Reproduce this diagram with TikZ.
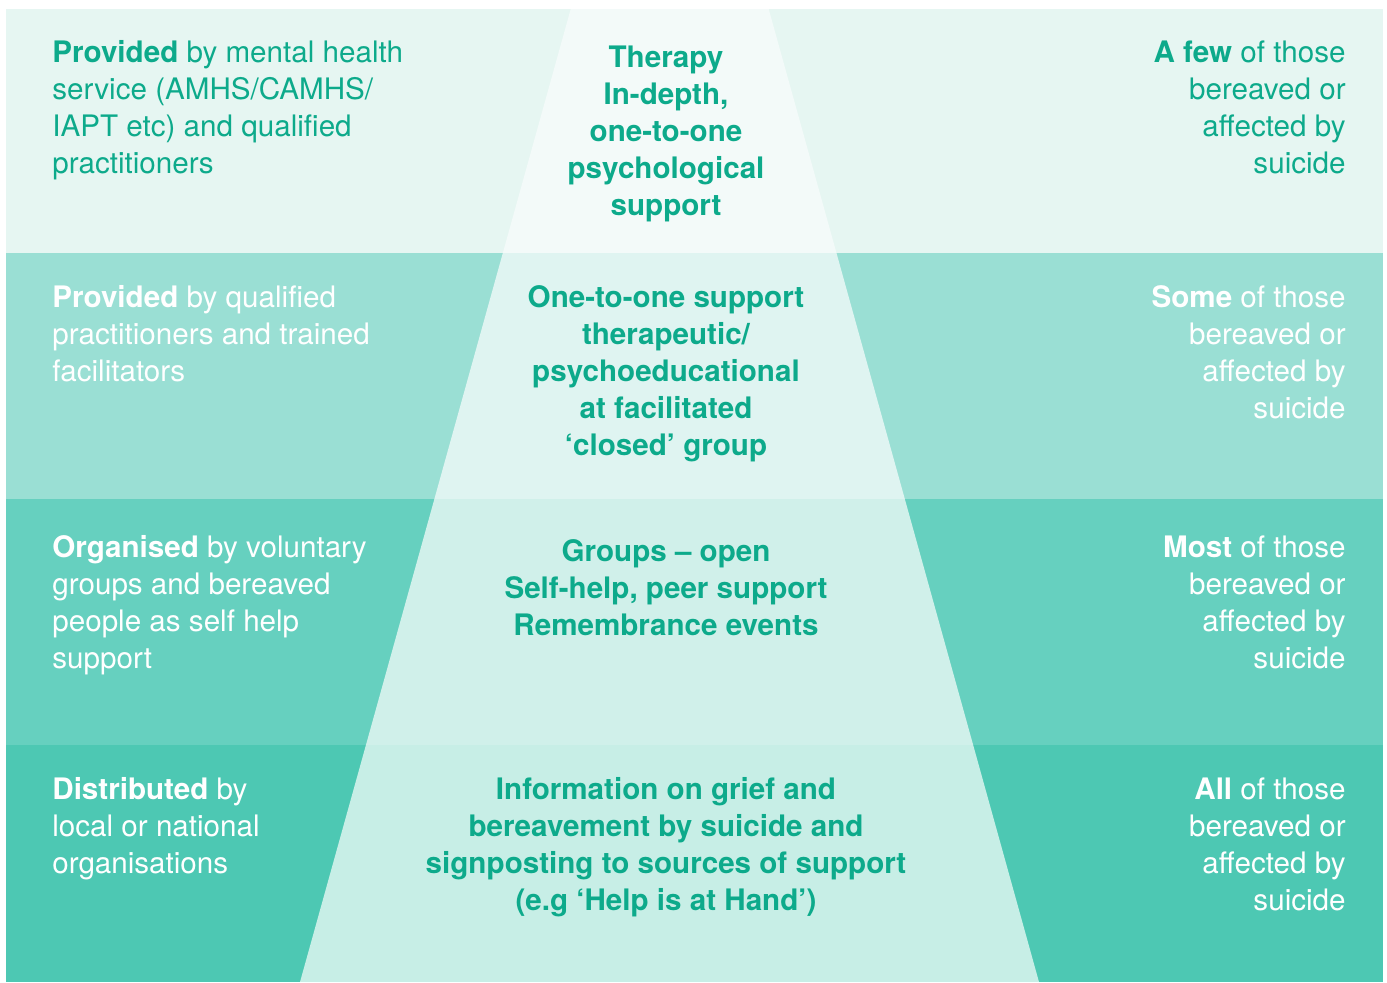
\documentclass[tikz,border=0pt]{standalone}
\usepackage{fontspec}
\setmainfont{TeX Gyre Heros}
\usetikzlibrary{positioning}

\definecolor{tealtext}{HTML}{0DAA8B}
\definecolor{bandAout}{HTML}{E6F6F2}
\definecolor{bandAin}{HTML}{F3FAF9}
\definecolor{bandBout}{HTML}{9ADFD4}
\definecolor{bandBin}{HTML}{DFF4F1}
\definecolor{bandCout}{HTML}{66D0BF}
\definecolor{bandCin}{HTML}{D0F0EA}
\definecolor{bandDout}{HTML}{4DC8B3}
\definecolor{bandDin}{HTML}{C7EEE6}

% nodes are placed at the baseline of their last line
\tikzset{
  lefttext/.style={anchor=base west, align=left, inner sep=0pt, text=white,
    font=\fontsize{14.8}{18.5}\selectfont},
  righttext/.style={anchor=base east, align=right, inner sep=0pt, text=white,
    font=\fontsize{14.8}{18.5}\selectfont},
  midtext/.style={anchor=base, align=center, inner sep=0pt, text=tealtext,
    font=\fontsize{14.8}{18.5}\selectfont\bfseries}
}

\begin{document}
\begin{tikzpicture}[x=0.5pt,y=-0.5pt]
        \useasboundingbox (0,0) rectangle (1387,982);
        \fill[white] (0,0) rectangle (1387,982);
        % corners of the pyramid
        \coordinate (topL) at (570.7,9);
        \coordinate (topR) at (768.7,9);
        \coordinate (botR) at (1039,982);
        \coordinate (botL) at (300,982);
        % the four bands, darker outside, lighter inside the pyramid
        \foreach \ytop/\ybot/\outcol/\incol in {9/253/bandAout/bandAin, 253/499/bandBout/bandBin, 499/745/bandCout/bandCin, 745/982/bandDout/bandDin}
        {
            \fill[\outcol] (6,\ytop) rectangle (1383,\ybot);
            \begin{scope}
                \clip (topL) -- (topR) -- (botR) -- (botL) -- cycle;
                \fill[\incol] (6,\ytop) rectangle (1383,\ybot);
            \end{scope}
        }
        % left column
        \node[lefttext, text=tealtext] (prov-mh) at (52,173) {\textbf{Provided} by mental health\\service (AMHS/CAMHS/\\IAPT etc) and qualified\\practitioners};
        \node[lefttext] (prov-qp) at (52,381) {\textbf{Provided} by qualified\\practitioners and trained\\facilitators};
        \node[lefttext] (org-vol) at (52,668) {\textbf{Organised} by voluntary\\groups and bereaved\\people as self help\\support};
        \node[lefttext] (dist-org) at (52,873) {\textbf{Distributed} by\\local or national\\organisations};
        % middle column
        \node[midtext] (therapy) at (666,215) {Therapy\\In-depth,\\one-to-one\\psychological\\support};
        \node[midtext] (one2one) at (666,455) {One-to-one support\\therapeutic/\\psychoeducational\\at facilitated\\‘closed’ group};
        \node[midtext] (groups) at (666,635) {Groups – open\\Self-help, peer support\\Remembrance events};
        \node[midtext] (info) at (666,910) {Information on grief and\\bereavement by suicide and\\signposting to sources of support\\(e.g ‘Help is at Hand’)};
        % right column
        \node[righttext, text=tealtext] (afew) at (1346,173) {\textbf{A few} of those\\bereaved or\\affected by\\suicide};
        \node[righttext] (some) at (1346,418) {\textbf{Some} of those\\bereaved or\\affected by\\suicide};
        \node[righttext] (most) at (1346,668) {\textbf{Most} of those\\bereaved or\\affected by\\suicide};
        \node[righttext] (all) at (1346,910) {\textbf{All} of those\\bereaved or\\affected by\\suicide};
\end{tikzpicture}
\end{document}
